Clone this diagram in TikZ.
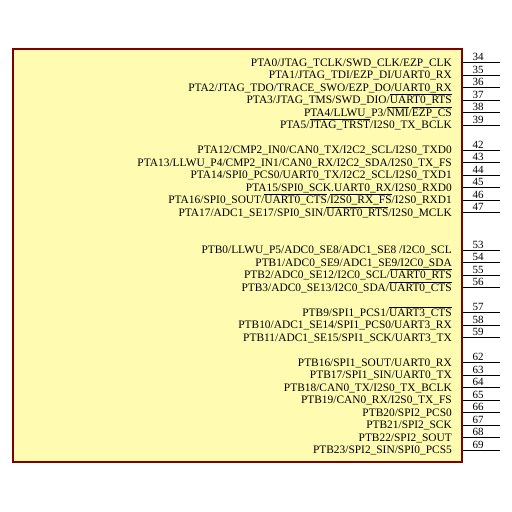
\documentclass[tikz,border=0pt]{standalone}
\usepackage{fontspec}
\setmainfont{Liberation Serif}
\newcommand{\ovl}[1]{\ensuremath{\overline{\mbox{#1}}}}
\begin{document}
\begin{tikzpicture}[
    x=1pt, y=1pt,
    chip/.style={draw=red!50!black, line width=1.1pt, fill=yellow!31, minimum width=449pt, minimum height=413pt, inner sep=0pt},
    lbl/.style={anchor=base east, inner sep=0pt, font=\fontsize{11.4}{12}\selectfont},
    num/.style={anchor=base west, inner sep=0pt, font=\fontsize{11}{12}\selectfont},
    pin/.style={line width=0.8pt, black}
]
\useasboundingbox (0,0) rectangle (512,-512);
\node[chip] (chip) at (237.5,-255.5) {};

% Port A
\node[lbl] (a0) at (452,-66) {PTA0/JTAG\_TCLK/SWD\_CLK/EZP\_CLK};
\node[lbl] (a1) at (452,-78.5) {PTA1/JTAG\_TDI/EZP\_DI/UART0\_RX};
\node[lbl] (a2) at (452,-91) {PTA2/JTAG\_TDO/TRACE\_SWO/EZP\_DO/UART0\_RX};
\node[lbl] (a3) at (452,-103.5) {PTA3/JTAG\_TMS/SWD\_DIO/\ovl{UART0\_RTS}};
\node[lbl] (a4) at (452,-116) {PTA4/LLWU\_P3/\ovl{NMI}/\ovl{EZP\_CS}};
\node[lbl] (a5) at (452,-128.5) {PTA5/\ovl{JTAG\_TRST}/I2S0\_TX\_BCLK};
\node[lbl] (a12) at (452,-153.5) {PTA12/CMP2\_IN0/CAN0\_TX/I2C2\_SCL/I2S0\_TXD0};
\node[lbl] (a13) at (452,-166) {PTA13/LLWU\_P4/CMP2\_IN1/CAN0\_RX/I2C2\_SDA/I2S0\_TX\_FS};
\node[lbl] (a14) at (452,-178.5) {PTA14/SPI0\_PCS0/UART0\_TX/I2C2\_SCL/I2S0\_TXD1};
\node[lbl] (a15) at (452,-191) {PTA15/SPI0\_SCK.UART0\_RX/I2S0\_RXD0};
\node[lbl] (a16) at (452,-203.5) {PTA16/SPI0\_SOUT/\ovl{UART0\_CTS}/\ovl{I2S0\_RX\_FS}/I2S0\_RXD1};
\node[lbl] (a17) at (452,-216) {PTA17/ADC1\_SE17/SPI0\_SIN/\ovl{UART0\_RTS}/I2S0\_MCLK};

% Port B
\node[lbl] (b0) at (452,-253.5) {PTB0/LLWU\_P5/ADC0\_SE8/ADC1\_SE8 /I2C0\_SCL};
\node[lbl] (b1) at (452,-266) {PTB1/ADC0\_SE9/ADC1\_SE9/I2C0\_SDA};
\node[lbl] (b2) at (452,-278.5) {PTB2/ADC0\_SE12/I2C0\_SCL/\ovl{UART0\_RTS}};
\node[lbl] (b3) at (452,-291) {PTB3/ADC0\_SE13/I2C0\_SDA/\ovl{UART0\_CTS}};
\node[lbl] (b9) at (452,-316) {PTB9/SPI1\_PCS1/\ovl{UART3\_CTS}};
\node[lbl] (b10) at (452,-328.5) {PTB10/ADC1\_SE14/SPI1\_PCS0/UART3\_RX};
\node[lbl] (b11) at (452,-341) {PTB11/ADC1\_SE15/SPI1\_SCK/UART3\_TX};
\node[lbl] (b16) at (452,-366) {PTB16/SPI1\_SOUT/UART0\_RX};
\node[lbl] (b17) at (452,-378.5) {PTB17/SPI1\_SIN/UART0\_TX};
\node[lbl] (b18) at (452,-391) {PTB18/CAN0\_TX/I2S0\_TX\_BCLK};
\node[lbl] (b19) at (452,-403.5) {PTB19/CAN0\_RX/I2S0\_TX\_FS};
\node[lbl] (b20) at (452,-416) {PTB20/SPI2\_PCS0};
\node[lbl] (b21) at (452,-428.5) {PTB21/SPI2\_SCK};
\node[lbl] (b22) at (452,-441) {PTB22/SPI2\_SOUT};
\node[lbl] (b23) at (452,-453.5) {PTB23/SPI2\_SIN/SPI0\_PCS5};

% Pins
\coordinate (p34) at (500,-62.5);
\coordinate (p35) at (500,-75);
\coordinate (p36) at (500,-87.5);
\coordinate (p37) at (500,-100);
\coordinate (p38) at (500,-112.5);
\coordinate (p39) at (500,-125);
\coordinate (p42) at (500,-150);
\coordinate (p43) at (500,-162.5);
\coordinate (p44) at (500,-175);
\coordinate (p45) at (500,-187.5);
\coordinate (p46) at (500,-200);
\coordinate (p47) at (500,-212.5);
\coordinate (p53) at (500,-250);
\coordinate (p54) at (500,-262.5);
\coordinate (p55) at (500,-275);
\coordinate (p56) at (500,-287.5);
\coordinate (p57) at (500,-312.5);
\coordinate (p58) at (500,-325);
\coordinate (p59) at (500,-337.5);
\coordinate (p62) at (500,-362.5);
\coordinate (p63) at (500,-375);
\coordinate (p64) at (500,-387.5);
\coordinate (p65) at (500,-400);
\coordinate (p66) at (500,-412.5);
\coordinate (p67) at (500,-425);
\coordinate (p68) at (500,-437.5);
\coordinate (p69) at (500,-450);
\draw[pin] (chip.east |- p34) -- (p34) node[num, pos=0.26, yshift=2pt] {34};
\draw[pin] (chip.east |- p35) -- (p35) node[num, pos=0.26, yshift=2pt] {35};
\draw[pin] (chip.east |- p36) -- (p36) node[num, pos=0.26, yshift=2pt] {36};
\draw[pin] (chip.east |- p37) -- (p37) node[num, pos=0.26, yshift=2pt] {37};
\draw[pin] (chip.east |- p38) -- (p38) node[num, pos=0.26, yshift=2pt] {38};
\draw[pin] (chip.east |- p39) -- (p39) node[num, pos=0.26, yshift=2pt] {39};
\draw[pin] (chip.east |- p42) -- (p42) node[num, pos=0.26, yshift=2pt] {42};
\draw[pin] (chip.east |- p43) -- (p43) node[num, pos=0.26, yshift=2pt] {43};
\draw[pin] (chip.east |- p44) -- (p44) node[num, pos=0.26, yshift=2pt] {44};
\draw[pin] (chip.east |- p45) -- (p45) node[num, pos=0.26, yshift=2pt] {45};
\draw[pin] (chip.east |- p46) -- (p46) node[num, pos=0.26, yshift=2pt] {46};
\draw[pin] (chip.east |- p47) -- (p47) node[num, pos=0.26, yshift=2pt] {47};
\draw[pin] (chip.east |- p53) -- (p53) node[num, pos=0.26, yshift=2pt] {53};
\draw[pin] (chip.east |- p54) -- (p54) node[num, pos=0.26, yshift=2pt] {54};
\draw[pin] (chip.east |- p55) -- (p55) node[num, pos=0.26, yshift=2pt] {55};
\draw[pin] (chip.east |- p56) -- (p56) node[num, pos=0.26, yshift=2pt] {56};
\draw[pin] (chip.east |- p57) -- (p57) node[num, pos=0.26, yshift=2pt] {57};
\draw[pin] (chip.east |- p58) -- (p58) node[num, pos=0.26, yshift=2pt] {58};
\draw[pin] (chip.east |- p59) -- (p59) node[num, pos=0.26, yshift=2pt] {59};
\draw[pin] (chip.east |- p62) -- (p62) node[num, pos=0.26, yshift=2pt] {62};
\draw[pin] (chip.east |- p63) -- (p63) node[num, pos=0.26, yshift=2pt] {63};
\draw[pin] (chip.east |- p64) -- (p64) node[num, pos=0.26, yshift=2pt] {64};
\draw[pin] (chip.east |- p65) -- (p65) node[num, pos=0.26, yshift=2pt] {65};
\draw[pin] (chip.east |- p66) -- (p66) node[num, pos=0.26, yshift=2pt] {66};
\draw[pin] (chip.east |- p67) -- (p67) node[num, pos=0.26, yshift=2pt] {67};
\draw[pin] (chip.east |- p68) -- (p68) node[num, pos=0.26, yshift=2pt] {68};
\draw[pin] (chip.east |- p69) -- (p69) node[num, pos=0.26, yshift=2pt] {69};
\end{tikzpicture}
\end{document}
